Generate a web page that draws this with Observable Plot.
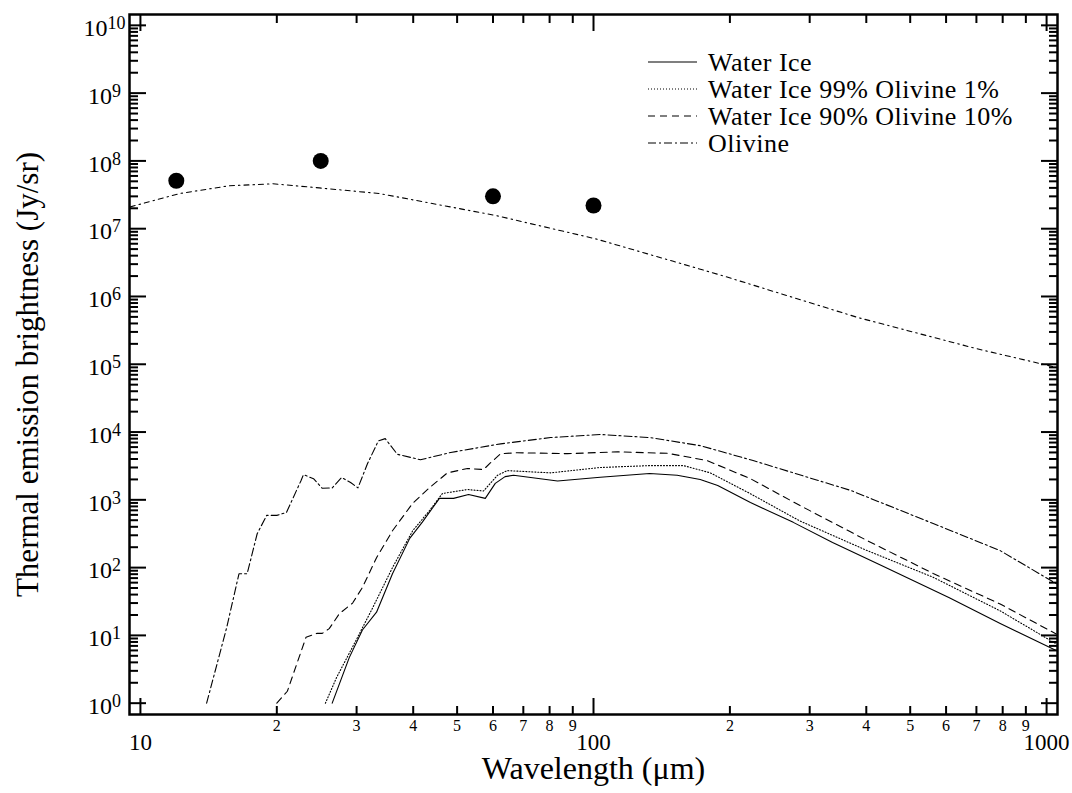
<!DOCTYPE html>
<html><head><meta charset="utf-8">
<script src="https://cdn.jsdelivr.net/npm/d3@7"></script>
<script src="https://cdn.jsdelivr.net/npm/@observablehq/plot@0.6"></script>
<style>body{margin:0;background:#fff} #chart svg{font-family:"Liberation Serif","Times New Roman",serif;}</style>
</head><body><div id="chart"></div>
<script>
const font = '"Liberation Serif", "Times New Roman", serif';

// Upper model curve (dash-dot, unlabelled)
const upperWl  = [9.5, 12.2, 15.7, 19.6, 24.8, 33.7, 43.4, 61, 101, 150, 194, 383, 700, 1050];
const upperVal = [2.1e7, 3.3e7, 4.3e7, 4.6e7, 4.0e7, 3.3e7, 2.4e7, 1.56e7, 7.1e6, 3.3e6, 2.0e6, 4.9e5, 1.7e5, 9e4];

// Olivine
const olWl  = [14.0, 15.5, 16.5, 17.2, 18.1, 19.0, 20.0, 21.0, 22.6, 22.9, 24.1, 25.2, 26.5, 27.8, 29.1, 30.2, 31.7, 33.5, 34.7, 36.9, 41.5, 48.4, 62.4, 80.4, 103.5, 133, 172, 225, 369, 562, 790, 1050];
const olVal = [1.0, 13, 81, 81, 316, 590, 590, 650, 1900, 2350, 2050, 1480, 1500, 2130, 1800, 1500, 3400, 7400, 8000, 4700, 3900, 5000, 6700, 8300, 9200, 8300, 6300, 3800, 1380, 447, 178, 58];

// Water Ice 90% Olivine 10%
const w90Wl  = [20, 21.1, 23.2, 24.5, 25.2, 26.1, 27.5, 29.4, 30.9, 33.2, 36.0, 39.9, 43.5, 47.6, 52.7, 57.2, 59.2, 62.4, 67.9, 87.6, 113, 146, 178, 222, 285, 402, 562, 790, 1050];
const w90Val = [1.0, 1.5, 9.4, 10.7, 10.7, 12.6, 21, 30, 51, 140, 350, 890, 1520, 2500, 2900, 2800, 3500, 4800, 4950, 4800, 5100, 4850, 3800, 2050, 830, 250, 82, 29, 10.5];

// Water Ice 99% Olivine 1%
const w99Wl  = [25.6, 27.1, 29.9, 32.5, 36.0, 39.9, 43.5, 46.4, 52.7, 57.2, 61.4, 64.5, 80.4, 103.5, 133, 158, 181, 222, 285, 402, 562, 790, 1050];
const w99Val = [1.0, 2.4, 8.4, 25, 100, 350, 700, 1240, 1420, 1350, 2300, 2700, 2500, 3000, 3200, 3200, 2500, 1230, 490, 178, 72, 23, 7.5];

// Water Ice
const wiWl  = [26.5, 28.9, 30.9, 33.2, 36.0, 39.3, 41.9, 45.7, 49.1, 53, 57.7, 60.7, 63.8, 66.6, 83.3, 103.5, 133, 153, 172, 188, 222, 276, 337, 432, 610, 790, 1050];
const wiVal = [1.0, 4.7, 12, 22, 81, 270, 470, 1050, 1050, 1200, 1050, 1750, 2200, 2300, 1900, 2150, 2450, 2300, 2000, 1630, 910, 465, 235, 107, 36, 15, 6];

// Observed points
const obsWl  = [12, 25, 60, 100];
const obsVal = [5.1e7, 1.0e8, 3.0e7, 2.2e7];

// Ticks
const majorX = [10, 100, 1000];
const majorXLabels = ["10", "100", "1000"];
const minorX = [20, 30, 40, 50, 60, 70, 80, 90, 200, 300, 400, 500, 600, 700, 800, 900];
const minorXLabels = ["2","3","4","5","6","7","8","9","2","3","4","5","6","7","8","9"];
const yExponents = [0,1,2,3,4,5,6,7,8,9,10];
const majorY = yExponents.map(e => 10 ** e);
const minorY = yExponents.slice(0, 10).flatMap(e => [2,3,4,5,6,7,8,9].map(m => m * 10 ** e));

const legendLabels = ["Water Ice", "Water Ice 99% Olivine 1%", "Water Ice 90% Olivine 10%", "Olivine"];
const dashes = {upper: "5,4,1.5,4", ol: "8,3,2,3", w90: "7,5", w99: "1,2", wi: null};
const legendDashes = [dashes.wi, dashes.w99, dashes.w90, dashes.ol];

const rows = (wl, val) => wl.map((w, i) => ({wl: w, v: val[i]}));
const xLab = new Map(majorX.map((d, i) => [d, majorXLabels[i]]));
const xMinLab = new Map(minorX.map((d, i) => [d, minorXLabels[i]]));
const yLab = new Map(majorY.map((d, i) => [d, "10^" + yExponents[i]]));

const lineOpts = (dash) => ({x: "wl", y: "v", stroke: "black", strokeWidth: 1.1, strokeDasharray: dash});
const tickOnly = {strokeWidth: 2, text: () => "", label: null};

const plot = Plot.plot({
  width: 1072, height: 793,
  marginLeft: 129, marginRight: 15, marginTop: 14, marginBottom: 79,
  style: {fontFamily: font, background: "white", color: "black"},
  x: {type: "log", domain: [9.46, 1057]},
  y: {type: "log", domain: [10 ** -0.167, 10 ** 10.16]},
  marks: [
    Plot.line(rows(upperWl, upperVal), lineOpts(dashes.upper)),
    Plot.line(rows(olWl, olVal), lineOpts(dashes.ol)),
    Plot.line(rows(w90Wl, w90Val), lineOpts(dashes.w90)),
    Plot.line(rows(w99Wl, w99Val), lineOpts(dashes.w99)),
    Plot.line(rows(wiWl, wiVal), lineOpts(dashes.wi)),
    Plot.dot(rows(obsWl, obsVal), {x: "wl", y: "v", r: 8, fill: "black"}),
    Plot.frame({stroke: "black", strokeWidth: 2.5}),
    // inward ticks
    Plot.axisX(majorX, {anchor: "bottom", tickSize: -16, ...tickOnly}),
    Plot.axisX(minorX, {anchor: "bottom", tickSize: -8, ...tickOnly}),
    Plot.axisX(majorX, {anchor: "top", tickSize: -16, ...tickOnly}),
    Plot.axisX(minorX, {anchor: "top", tickSize: -8, ...tickOnly}),
    Plot.axisY(majorY, {anchor: "left", tickSize: -17, ...tickOnly}),
    Plot.axisY(minorY, {anchor: "left", tickSize: -9, ...tickOnly}),
    Plot.axisY(majorY, {anchor: "right", tickSize: -17, ...tickOnly}),
    Plot.axisY(minorY, {anchor: "right", tickSize: -9, ...tickOnly}),
    // tick labels
    Plot.axisX(majorX, {anchor: "bottom", tickSize: 0, tickPadding: 19, fontSize: 23, text: d => xLab.get(d), label: null}),
    Plot.axisX(minorX, {anchor: "bottom", tickSize: 0, tickPadding: 5, fontSize: 16, text: d => xMinLab.get(d), label: null}),
    Plot.axisY(majorY, {anchor: "left", tickSize: 0, tickPadding: 25, textAnchor: "middle", fontSize: 24, dy: 3,
      text: d => yLab.get(d), label: null}),
    // axis titles
    Plot.text(["Wavelength (\u03bcm)"], {frameAnchor: "bottom", dy: 64, fontSize: 32, fill: "black", textAnchor: "middle"}),
    Plot.text(["Thermal emission brightness (Jy/sr)"], {frameAnchor: "left", dx: -101, dy: 10, rotate: -90, fontSize: 31, fill: "black", textAnchor: "middle"})
  ]
});

const svg = d3.select(plot);
svg.selectAll('g[aria-label="y-axis tick label"] text').each(function () {
  const parts = this.textContent.split("^");
  const t = d3.select(this);
  t.text(null);
  t.append("tspan").text(parts[0]);
  t.append("tspan").attr("dy", -7).attr("font-size", 18).text(parts[1]);
});

const leg = svg.append("g").attr("font-family", font).attr("font-size", 26)
  .attr("letter-spacing", 0.5).attr("fill", "black").attr("text-anchor", "start");
legendLabels.forEach((lab, i) => {
  const y = 62 + i * 27;
  const ln = leg.append("line").attr("x1", 648).attr("x2", 697).attr("y1", y).attr("y2", y)
    .attr("stroke", "black").attr("stroke-width", 1.1);
  if (legendDashes[i]) ln.attr("stroke-dasharray", legendDashes[i]);
  leg.append("text").attr("x", 708).attr("y", y).attr("dy", "0.35em").text(lab);
});

document.getElementById("chart").appendChild(plot);
</script>
</body></html>
